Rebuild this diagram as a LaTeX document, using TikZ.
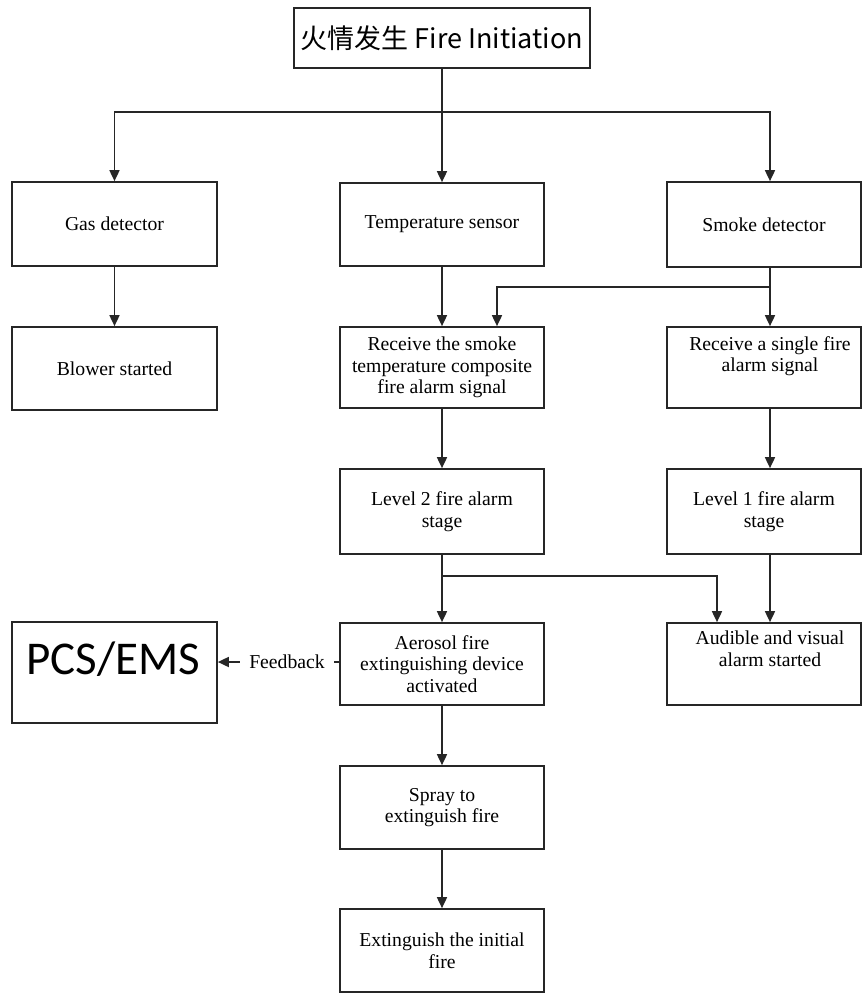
\documentclass[tikz,border=0pt]{standalone}
\usepackage{fontspec}
\setmainfont{Liberation Serif}
\newfontfamily\cjkfont{Noto Sans CJK SC}
\newfontfamily\calfont{Carlito}
\usetikzlibrary{arrows.meta}

\tikzset{
  flowline/.style={line width=1.7pt, black!85},
  flowarrow/.style={flowline, -{Triangle[width=10pt,length=11pt]}},
  boxtext/.style={align=center, inner sep=0pt, font=\fontsize{19.7}{21.5}\selectfont},
  box/.style={boxtext, draw=black!85, line width=1.7pt, fill=white},
  leftbox/.style={box, minimum width=205pt, minimum height=84pt},
  midbox/.style={box, minimum width=204pt, minimum height=83pt},
  rightbox/.style={box, minimum width=194pt, minimum height=82pt},
}

\begin{document}
\begin{tikzpicture}[x=1pt, y=-1pt]
    \fill[white] (0,0) rectangle (862,994);
    \useasboundingbox (0,0) rectangle (862,994);
    \coordinate (rcol) at (770,0);

    % start
    \node[box, minimum width=296pt, minimum height=60pt,
          font=\cjkfont\fontsize{27}{30}\selectfont] (fire) at (442,38) {火情发生 Fire Initiation};

    % detectors
    \node[leftbox] (gas) at (114.5,224) {Gas detector};
    \node[midbox] (temp) at (442,224.5) {Temperature sensor};
    \node[rightbox, minimum height=85pt] (smoke) at (764,224.5) {Smoke detector};

    % signals
    \node[leftbox, minimum height=83pt] (blower) at (114.5,368.5) {Blower started};
    \node[midbox, minimum height=81pt] (comp) at (442,367.5) {Receive the smoke\\temperature composite\\fire alarm signal};
    \node[rightbox, minimum height=81pt] (single) at (764,367.5) {};
    \node[boxtext] (singletxt) at (770,356) {Receive a single fire\\alarm signal};

    % stages
    \node[midbox, minimum height=85pt] (lvl2) at (442,511.5) {Level 2 fire alarm\\stage};
    \node[rightbox, minimum height=85pt] (lvl1) at (764,511.5) {Level 1 fire alarm\\stage};

    % actions
    \node[leftbox, minimum height=101pt] (pcs) at (114.5,672.5) {};
    \node[boxtext, font=\calfont\fontsize{47}{50}\selectfont] (pcstxt) at (113.5,659) {PCS/EMS};
    \node[midbox, minimum height=82pt] (aero) at (442,664) {Aerosol fire\\extinguishing device\\activated};
    \node[rightbox] (aud) at (764,664) {};
    \node[boxtext] (audtxt) at (770,649) {Audible and visual\\alarm started};
    \node[boxtext, inner xsep=9.5pt] (fb) at (287,662) {Feedback};

    \node[midbox] (spray) at (442,807.5) {Spray to\\extinguish fire};
    \node[midbox] (ext) at (442,950.5) {Extinguish the initial\\fire};

    % connectors
    \draw[flowarrow] (fire.south) -- ++(0,43) -| (gas.north);
    \draw[flowarrow] (fire.south) -- (temp.north);
    \draw[flowarrow] (fire.south) -- ++(0,43) -| (smoke.north -| rcol);

    \draw[flowarrow] (gas) -- (blower);
    \draw[flowarrow] (temp) -- (comp);
    \draw[flowarrow] (smoke.south -| rcol) -- (single.north -| rcol);
    \draw[flowarrow] (smoke.south -| rcol) ++(0,19) -| ([xshift=55pt]comp.north);

    \draw[flowarrow] (comp) -- (lvl2);
    \draw[flowarrow] (single.south -| rcol) -- (lvl1.north -| rcol);

    \draw[flowarrow] (lvl2) -- (aero);
    \draw[flowarrow] (lvl2.south) ++(0,21) -| ([xshift=-47pt]aud.north);
    \draw[flowarrow] (lvl1.south -| rcol) -- (aud.north -| rcol);

    \draw[flowline] (aero.west |- fb) -- (fb.east);
    \draw[flowarrow] (fb.west) -- (pcs.east |- fb);

    \draw[flowarrow] (aero) -- (spray);
    \draw[flowarrow] (spray) -- (ext);
\end{tikzpicture}
\end{document}
